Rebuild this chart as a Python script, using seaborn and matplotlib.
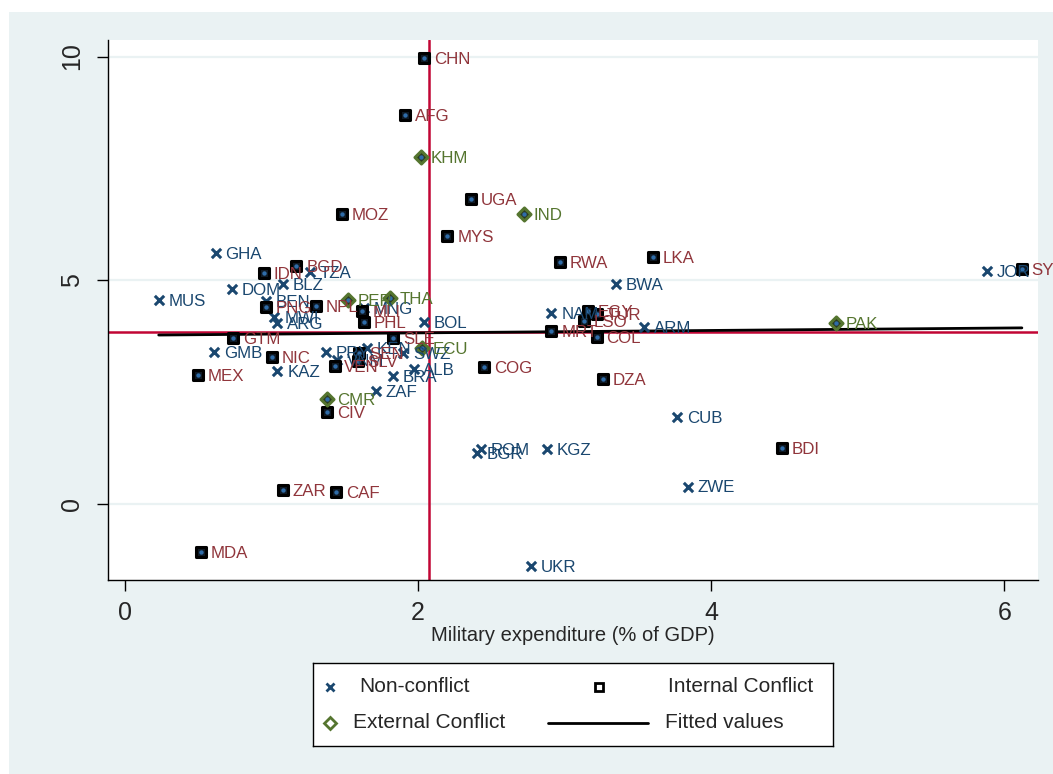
import numpy as np
import pandas as pd
import matplotlib
matplotlib.use("Agg")
import matplotlib.pyplot as plt
import seaborn as sns
from matplotlib.patches import Rectangle

# ---- data ----
# non-conflict countries
non_iso = ["GHA", "MUS", "DOM", "BLZ", "TZA", "BEN", "MWI", "ARG", "GMB", "KAZ",
           "PRY", "VNM", "KEN", "SWZ", "ALB", "BRA", "ZAF", "BOL", "MNG", "NAM",
           "BWA", "ARM", "CUB", "ZWE", "ROM", "BGR", "KGZ", "UKR", "JOR"]
non_x = [0.62, 0.23, 0.73, 1.08, 1.26, 0.96, 1.02, 1.04, 0.61, 1.04,
         1.37, 1.45, 1.65, 1.90, 1.97, 1.83, 1.71, 2.04, 1.63, 2.91,
         3.35, 3.54, 3.77, 3.84, 2.43, 2.40, 2.88, 2.77, 5.88]
non_y = [5.61, 4.55, 4.80, 4.91, 5.18, 4.53, 4.17, 4.04, 3.39, 2.96,
         3.39, 3.22, 3.47, 3.36, 3.00, 2.85, 2.51, 4.06, 4.38, 4.26,
         4.91, 3.95, 1.93, 0.38, 1.21, 1.12, 1.21, -1.39, 5.20]

# internal conflict
int_iso = ["CHN", "AFG", "UGA", "MYS", "MOZ", "IDN", "BGD", "PNG", "NPL", "MLI",
           "PHL", "GTM", "NIC", "MEX", "SLE", "SEN", "VEN", "SLV", "CIV", "COG",
           "DZA", "MRT", "EGY", "LSO", "TUR", "COL", "RWA", "LKA", "BDI", "ZAR",
           "CAF", "MDA", "SYR"]
int_x = [2.04, 1.91, 2.36, 2.20, 1.48, 0.95, 1.17, 0.96, 1.30, 1.62,
         1.63, 0.74, 1.00, 0.50, 1.83, 1.60, 1.43, 1.59, 1.38, 2.45,
         3.26, 2.91, 3.16, 3.13, 3.22, 3.22, 2.97, 3.60, 4.48, 1.08,
         1.44, 0.52, 6.12]
int_y = [9.96, 8.70, 6.82, 5.99, 6.48, 5.16, 5.31, 4.39, 4.42, 4.31,
         4.06, 3.70, 3.27, 2.87, 3.70, 3.36, 3.07, 3.18, 2.04, 3.05,
         2.78, 3.86, 4.30, 4.09, 4.24, 3.72, 5.41, 5.52, 1.25, 0.31,
         0.25, -1.08, 5.25]

# external conflict
ext_iso = ["KHM", "IND", "PER", "THA", "ECU", "CMR", "PAK"]
ext_x = [2.02, 2.72, 1.52, 1.81, 2.03, 1.38, 4.85]
ext_y = [7.76, 6.48, 4.55, 4.60, 3.47, 2.33, 4.04]

# fitted values (end points of the line)
fit_x = [0.23, 6.12]
fit_y = [3.77, 3.93]

# reference lines
mean_x = 2.075
mean_y = 3.83

x_ticks = [0, 2, 4, 6]
y_ticks = [0, 5, 10]

navy = "#1a476f"
maroon = "#90353b"
green = "#55752f"
red = "#c10534"
bg = "#eaf2f3"

non = pd.DataFrame({"iso": non_iso, "x": non_x, "y": non_y})
intc = pd.DataFrame({"iso": int_iso, "x": int_x, "y": int_y})
ext = pd.DataFrame({"iso": ext_iso, "x": ext_x, "y": ext_y})

sns.set_style("white")
plt.rcParams["font.family"] = ["Liberation Sans", "DejaVu Sans"]

fig = plt.figure(figsize=(10.53, 7.74), dpi=100)
fig.patch.set_facecolor("white")
fig.patches.append(Rectangle((9 / 1053, 0), 1, 1 - 12 / 774, transform=fig.transFigure,
                             facecolor=bg, edgecolor="none", zorder=-10))

ax = fig.add_axes([108 / 1053, 1 - 580 / 774, 930 / 1053, 540 / 774])
ax.set_facecolor("white")

for v in y_ticks:
    ax.axhline(v, color=bg, lw=1.6, zorder=0)

ax.axvline(mean_x, color=red, lw=1.8, zorder=1)
ax.axhline(mean_y, color=red, lw=1.8, zorder=1)
sns.lineplot(x=fit_x, y=fit_y, ax=ax, color="black", lw=2, zorder=2)

# non-conflict
sns.scatterplot(data=non, x="x", y="y", ax=ax, marker="x", color=navy, s=45,
                linewidth=2.2, zorder=3)
# internal conflict
sns.scatterplot(data=intc, x="x", y="y", ax=ax, marker="s", facecolor="#0f1a26",
                edgecolor="black", s=48, linewidth=2.2, zorder=3)
# external conflict
sns.scatterplot(data=ext, x="x", y="y", ax=ax, marker="D", facecolor="#2a3a22",
                edgecolor=green, s=44, linewidth=2.2, zorder=3)
# small base dots
both = pd.concat([intc, ext])
sns.scatterplot(data=both, x="x", y="y", ax=ax, marker="o", color="#2f6ca8",
                s=10, linewidth=0, zorder=4)

for df, col in [(non, navy), (intc, maroon), (ext, green)]:
    for _, r in df.iterrows():
        ax.annotate(r["iso"], (r["x"], r["y"]), xytext=(7, -1), textcoords="offset points",
                    va="center", ha="left", color=col, fontsize=12.2, zorder=5)

ax.set_xlim(-0.116, 6.23)
ax.set_ylim(-1.71, 10.37)
ax.set_xticks(x_ticks)
ax.set_yticks(y_ticks)
ax.tick_params(axis="both", direction="out", length=8, width=1, color="black",
               labelsize=18, bottom=True, left=True)
ax.tick_params(axis="y", labelrotation=90, pad=9)
for lab in ax.get_yticklabels():
    lab.set_va("center")
ax.tick_params(axis="x", pad=7)
for s in ["top", "right"]:
    ax.spines[s].set_visible(False)
for s in ["left", "bottom"]:
    ax.spines[s].set_color("black")
    ax.spines[s].set_linewidth(1)
ax.set_xlabel("Military expenditure (% of GDP)", fontsize=14.5, labelpad=1)
ax.set_ylabel("")

# legend box
lax = fig.add_axes([313 / 1053, 1 - 746 / 774, 520 / 1053, 83 / 774])
lax.set_xlim(313, 833)
lax.set_ylim(746, 663)
lax.set_xticks([])
lax.set_yticks([])
lax.set_facecolor("white")
for s in lax.spines.values():
    s.set_color("black")
    s.set_linewidth(1)
lax.plot([330], [687], marker="x", color=navy, ms=6, mew=2)
lax.text(359, 687, "Non-conflict", va="center", fontsize=15)
lax.plot([599], [687], marker="s", mfc="white", mec="black", ms=6, mew=2)
lax.text(668, 687, "Internal Conflict", va="center", fontsize=15)
lax.plot([330], [723], marker="D", mfc="white", mec=green, ms=6, mew=2)
lax.text(353, 723, "External Conflict", va="center", fontsize=15)
lax.plot([548, 648], [723, 723], color="black", lw=2)
lax.text(665, 723, "Fitted values", va="center", fontsize=15)

fig.savefig("out.png", dpi=100)
